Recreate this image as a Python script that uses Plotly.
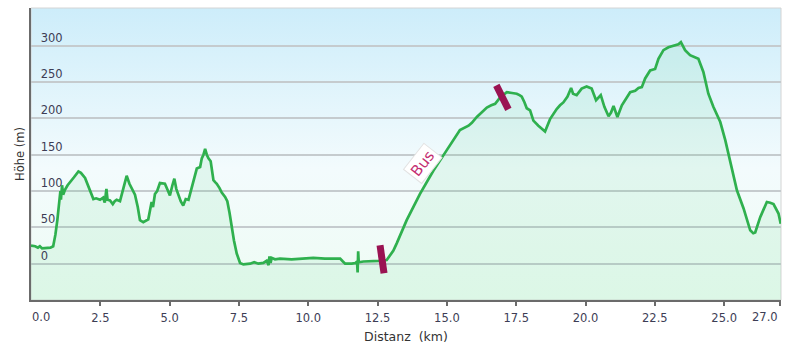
import base64
import plotly.graph_objects as go

# ---- data ----
distance_km = [0.00, 0.15, 0.25, 0.32, 0.40, 0.57, 0.70, 0.80, 0.88, 0.95, 1.02, 1.06, 1.08, 1.12, 1.16, 1.23,
               1.32, 1.41, 1.55, 1.71, 1.80, 1.95, 2.05, 2.13, 2.25, 2.35, 2.49, 2.60, 2.66, 2.72, 2.76, 2.85,
               2.95, 3.02, 3.09, 3.21, 3.30, 3.45, 3.55, 3.63, 3.75, 3.85, 3.93, 4.05, 4.17, 4.23, 4.35, 4.40,
               4.47, 4.55, 4.65, 4.75, 4.83, 4.92, 5.01, 5.10, 5.17, 5.24, 5.31, 5.40, 5.49, 5.58, 5.68, 5.76,
               5.86, 5.98, 6.10, 6.16, 6.22, 6.28, 6.34, 6.40, 6.48, 6.58, 6.65, 6.70, 6.80, 6.88, 7.00, 7.08,
               7.16, 7.24, 7.32, 7.42, 7.54, 7.66, 7.78, 7.90, 8.05, 8.20, 8.38, 8.50, 8.57, 8.60, 8.64, 8.68,
               8.80, 8.98, 9.40, 9.80, 10.18, 10.60, 11.15, 11.25, 11.33, 11.57, 11.70, 11.76, 11.78, 11.80,
               11.82, 11.99, 12.35, 12.55, 12.83, 13.07, 13.19, 13.55, 14.03, 14.51, 14.99, 15.47, 15.78, 15.90,
               16.08, 16.44, 16.60, 16.74, 16.92, 17.16, 17.35, 17.52, 17.62, 17.70, 17.80, 17.88, 18.00, 18.12,
               18.30, 18.42, 18.54, 18.72, 18.96, 19.08, 19.20, 19.35, 19.48, 19.55, 19.68, 19.86, 20.04, 20.22,
               20.38, 20.55, 20.68, 20.83, 20.92, 21.01, 21.15, 21.31, 21.45, 21.61, 21.79, 21.91, 22.03, 22.15,
               22.33, 22.51, 22.63, 22.81, 22.99, 23.23, 23.35, 23.44, 23.59, 23.77, 24.07, 24.25, 24.43, 24.61,
               24.86, 25.04, 25.22, 25.46, 25.70, 25.94, 26.05, 26.12, 26.30, 26.54, 26.66, 26.78, 26.96, 27.04]
elevation_m = [25, 24, 22, 24, 21, 21, 22, 24, 40, 60, 85, 100, 88, 108, 95, 102,
               108, 112, 119, 127, 125, 118, 108, 100, 89, 90, 88, 91, 84, 103, 88, 87,
               82, 86, 88, 86, 100, 121, 110, 103, 95, 78, 60, 57, 59, 61, 85, 78,
               96, 100, 111, 111, 110, 102, 94, 108, 117, 103, 94, 86, 80, 89, 88, 100,
               115, 131, 133, 145, 150, 158, 150, 145, 141, 115, 112, 110, 104, 98, 92, 86,
               70, 50, 32, 14, 1, -1, -1, 0, 2, 0, 1, 4, -2, 10, 1, 8,
               6, 7, 6, 7, 8, 7, 7, 3, 0, 0, 1, 3, -12, 17,
               2, 3, 3, 4, 5, 18, 28, 60, 96, 128, 156, 184, 190, 194,
               202, 215, 218, 220, 229, 236, 235, 234, 232, 230, 222, 214, 211, 197,
               190, 186, 182, 199, 213, 218, 222, 230, 242, 234, 232, 241, 244, 241,
               225, 232, 216, 203, 208, 217, 202, 218, 226, 236, 238, 242, 243, 255,
               266, 268, 282, 294, 298, 301, 302, 305, 294, 287, 282, 264, 234, 216,
               195, 170, 142, 101, 76, 46, 42, 43, 64, 85, 84, 82, 69, 55]

x_tick_vals = [0.0, 2.5, 5.0, 7.5, 10.0, 12.5, 15.0, 17.5, 20.0, 22.5, 25.0, 27.0]
x_tick_text = ["0.0", "2.5", "5.0", "7.5", "10.0", "12.5", "15.0",
               "17.5", "20.0", "22.5", "25.0", "27.0"]
y_tick_vals = [0, 50, 100, 150, 200, 250, 300]

bus_marker_km = [12.66, 17.0]
bus_marker_m = [6, 229]
bus_label = "Bus"
bus_label_km = 14.15
bus_label_m = 138

X_RANGE = [0, 27.05]
Y_RANGE = [-50, 352]

TICK_FONT = dict(family="DejaVu Sans", size=11.5, color="#3d3d55")

# vertical gradient background as an SVG image
svg = ('<svg xmlns="http://www.w3.org/2000/svg" width="100" height="100" preserveAspectRatio="none">'
       '<defs><linearGradient id="g" x1="0" y1="0" x2="0" y2="1">'
       '<stop offset="0" stop-color="#cdedfa"/><stop offset="0.55" stop-color="#f3fbfd"/>'
       '<stop offset="1" stop-color="#eefcf3"/></linearGradient></defs>'
       '<rect width="100" height="100" fill="url(#g)"/></svg>')
bg_uri = "data:image/svg+xml;base64," + base64.b64encode(svg.encode()).decode()

fig = go.Figure()

# baseline for fill
fig.add_trace(go.Scatter(x=[X_RANGE[0], X_RANGE[1]], y=[Y_RANGE[0], Y_RANGE[0]],
                         mode="lines", line=dict(width=0), hoverinfo="skip", showlegend=False))

fig.add_trace(go.Scatter(
    x=distance_km, y=elevation_m, mode="lines",
    line=dict(color="#2fb04e", width=2.7),
    fill="tonexty", fillcolor="rgba(70,205,120,0.10)",
    showlegend=False))

# bus markers (tilted bars)
tilts = [(2, 14), (6, 12)]
for (kx, my), (dx, dy) in zip(zip(bus_marker_km, bus_marker_m), tilts):
    fig.add_shape(type="line", xref="x", yref="y",
                  xsizemode="pixel", ysizemode="pixel", xanchor=kx, yanchor=my,
                  x0=-dx, x1=dx, y0=dy, y1=-dy,
                  line=dict(color="#9a1352", width=7), layer="above")

fig.add_annotation(x=bus_label_km, y=bus_label_m, text=bus_label, showarrow=False,
                   textangle=-52, font=dict(family="DejaVu Sans", size=15, color="#c42f72"),
                   bgcolor="white", borderpad=2, bordercolor="#e2e2e2", borderwidth=1)

# edge x tick labels (shifted inward like the original)
edge_shift = {0: 10, len(x_tick_vals) - 1: -15}
shown_text = list(x_tick_text)
for i, sh in edge_shift.items():
    fig.add_annotation(x=x_tick_vals[i], xref="x", y=0, yref="paper", yanchor="top",
                       xanchor="center", xshift=sh, yshift=-8, text=x_tick_text[i],
                       showarrow=False, font=TICK_FONT)
    shown_text[i] = ""

fig.add_layout_image(source=bg_uri, xref="paper", yref="paper", x=0, y=1, sizex=1, sizey=1,
                     sizing="stretch", xanchor="left", yanchor="top", layer="below")

fig.update_layout(
    width=786, height=349,
    margin=dict(l=31, r=5, t=8, b=49),
    paper_bgcolor="white", plot_bgcolor="rgba(0,0,0,0)",
    font=dict(family="DejaVu Sans", size=11, color="#3d3d4d"),
    xaxis=dict(range=X_RANGE, tickvals=x_tick_vals, ticktext=shown_text, automargin=False,
               showgrid=False, zeroline=False, showline=True, linecolor="#6b6b6b", linewidth=2,
               ticks="outside", ticklen=4, tickcolor="#6b6b6b", tickwidth=2,
               ticklabelstandoff=2, tickfont=TICK_FONT,
               title=dict(text="Distanz\u00a0\u00a0(km)", font=dict(size=12.5, color="#333333"), standoff=8)),
    yaxis=dict(range=Y_RANGE, tickvals=y_tick_vals, automargin=False,
               showgrid=True, gridcolor="#c5cbce", gridwidth=1.6, zeroline=False,
               showline=True, linecolor="#6b6b6b", linewidth=2, ticks="",
               ticklabelposition="inside top", ticklabelstandoff=8,
               tickfont=TICK_FONT,
               title=dict(text="Höhe (m)", font=dict(size=11.5, color="#333333"), standoff=14)),
)

fig.add_shape(type="rect", xref="paper", yref="paper", x0=0, x1=1, y0=0, y1=1,
              line=dict(color="#d4d4d4", width=1), layer="below")

fig.write_html("out.html")
